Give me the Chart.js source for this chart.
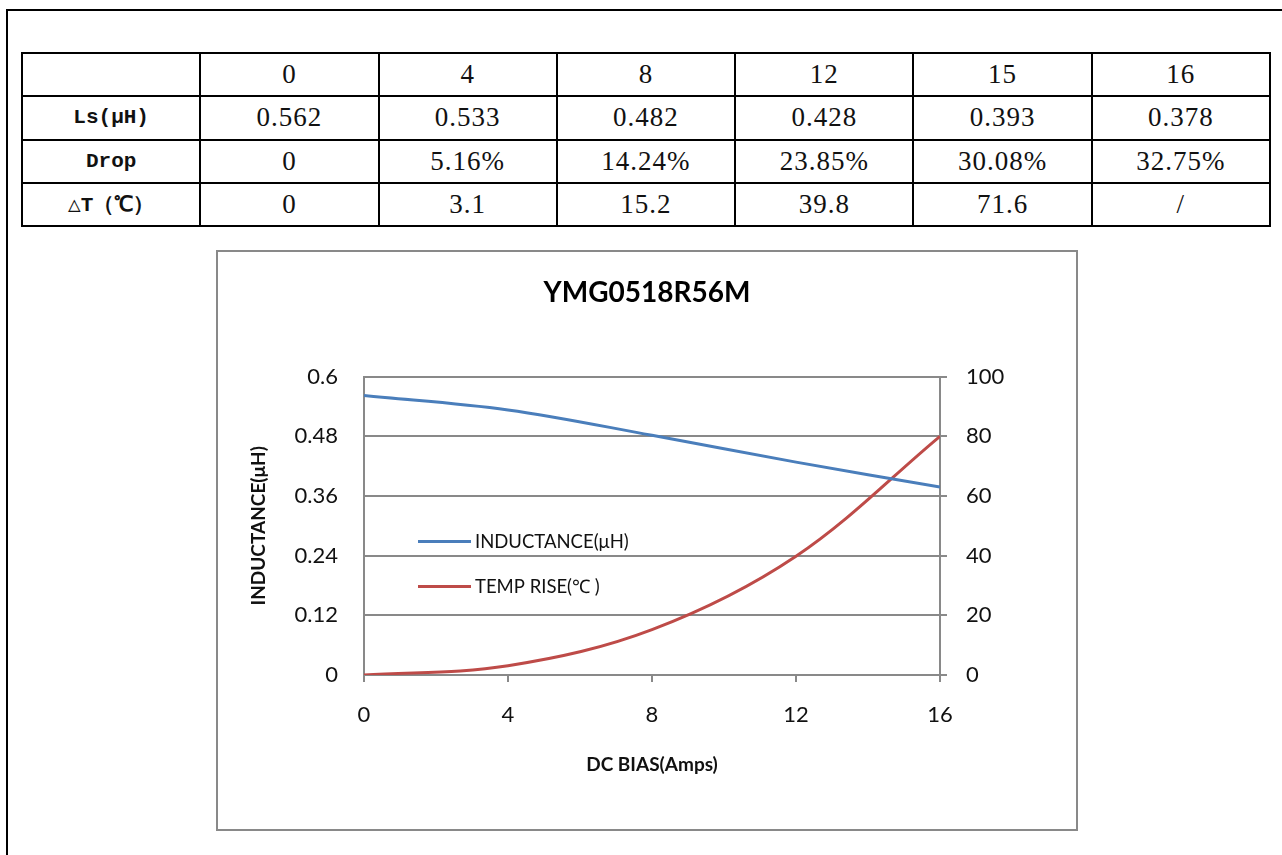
<!DOCTYPE html>
<html>
<head>
<meta charset="utf-8">
<script src="https://cdn.jsdelivr.net/npm/chart.js@4/dist/chart.umd.min.js"></script>
<style>
  html, body { margin:0; padding:0; background:#fff; }
  body { width:1282px; height:855px; position:relative; overflow:hidden; }
  #pageTop { position:absolute; left:7px; top:9px; width:1290px; height:2px; background:#000; }
  #pageLeft { position:absolute; left:6px; top:9px; width:2px; height:860px; background:#000; }
  table { position:absolute; left:21px; top:52px; width:1250px; height:175px; border-collapse:collapse; table-layout:fixed; }
  td { border:2px solid #000; text-align:center; padding:0; font-family:"Liberation Serif", serif; font-size:27px; letter-spacing:1px; color:#111; height:41px; }
  td.lab { font-family:"Liberation Mono", monospace; font-weight:bold; font-size:21px; letter-spacing:0; }
  #box { position:absolute; left:216px; top:250px; width:862px; height:581px; box-sizing:border-box; border:2px solid #898989; background:#fff; }
  #wrap { position:absolute; left:0; top:0; width:858px; height:577px; }
</style>
</head>
<body>
<div id="pageTop"></div>
<div id="pageLeft"></div>
<table id="tbl"></table>
<div id="box"><div id="wrap"><canvas id="c" width="858" height="577"></canvas></div></div>
<script>
// ---- data ----
const tableHeaders = ["0", "4", "8", "12", "15", "16"];
const lsRowLabel = "Ls(μH)";
const lsValues = ["0.562", "0.533", "0.482", "0.428", "0.393", "0.378"];
const dropRowLabel = "Drop";
const dropValues = ["0", "5.16%", "14.24%", "23.85%", "30.08%", "32.75%"];
const dtRowLabel = "△T（℃）";
const dtValues = ["0", "3.1", "15.2", "39.8", "71.6", "/"];

const chartTitle = "YMG0518R56M";
const xTitle = "DC BIAS(Amps)";
const yTitle = "INDUCTANCE(μH)";
const seriesInductanceName = "INDUCTANCE(μH)";
const seriesTempName = "TEMP RISE(℃ )";
const biasX = [0, 4, 8, 12, 16];
const inductanceY = [0.562, 0.533, 0.482, 0.428, 0.378];
const tempY = [0, 3.1, 15.2, 39.8, 80];
const xTicks = [0, 4, 8, 12, 16];
const leftTicks = [0, 0.12, 0.24, 0.36, 0.48, 0.6];
const rightTicks = [0, 20, 40, 60, 80, 100];

// ---- table ----
const tbl = document.getElementById('tbl');
function addRow(label, vals) {
  const tr = document.createElement('tr');
  const th = document.createElement('td');
  th.className = 'lab'; th.textContent = label; tr.appendChild(th);
  vals.forEach(v => { const td = document.createElement('td'); td.textContent = v; tr.appendChild(td); });
  tbl.appendChild(tr);
}
addRow("", tableHeaders);
addRow(lsRowLabel, lsValues);
addRow(dropRowLabel, dropValues);
addRow(dtRowLabel, dtValues);

// ---- chart ----
const GRID = '#898989';
const BLUE = '#4A7EBB';
const RED = '#BE4B48';

const legendInside = {
  id: 'legendInside',
  afterDatasetsDraw(chart) {
    const ctx = chart.ctx, a = chart.chartArea;
    const items = chart.data.datasets;
    ctx.save();
    items.forEach((ds, i) => {
      const y = a.top + 165 + i * 45;
      const x0 = a.left + 54;
      ctx.strokeStyle = ds.borderColor; ctx.lineWidth = 3;
      ctx.beginPath(); ctx.moveTo(x0, y); ctx.lineTo(x0 + 53, y); ctx.stroke();
      ctx.fillStyle = '#111';
      ctx.font = '18.5px Lato';
      ctx.textBaseline = 'middle'; ctx.textAlign = 'left';
      ctx.fillText(ds.label, x0 + 57, y);
    });
    ctx.restore();
  }
};

new Chart(document.getElementById('c'), {
  type: 'line',
  data: {
    datasets: [
      { label: seriesInductanceName, data: biasX.map((x, i) => ({x, y: inductanceY[i]})),
        yAxisID: 'y', borderColor: BLUE, backgroundColor: BLUE, borderWidth: 3, pointRadius: 0,
        tension: 0.35 },
      { label: seriesTempName, data: biasX.map((x, i) => ({x, y: tempY[i]})),
        yAxisID: 'y1', borderColor: RED, backgroundColor: RED, borderWidth: 3, pointRadius: 0,
        tension: 0.35 }
    ]
  },
  options: {
    responsive: false,
    animation: false,
    layout: { padding: { left: 0, right: 0, top: 0, bottom: 49 } },
    plugins: {
      legend: { display: false },
      tooltip: { enabled: false },
      title: { display: true, text: chartTitle, color: '#000',
        font: { family: 'Lato', size: 28, weight: 'bold' }, padding: { top: 24, bottom: 67 } }
    },
    scales: {
      x: {
        type: 'linear', min: 0, max: 16,
        afterBuildTicks(s) { s.ticks = xTicks.map(v => ({ value: v })); },
        afterFit(s) { s.height = 105; },
        grid: { drawOnChartArea: false, drawTicks: true, tickLength: 7, color: GRID, lineWidth: 2 },
        border: { display: true, color: GRID, width: 2 },
        ticks: { color: '#111', font: { family: 'Lato', size: 22 }, padding: 20, maxRotation: 0 },
        title: { display: true, text: xTitle, color: '#111', font: { family: 'Lato', size: 19, weight: 'bold' }, padding: { top: 4, bottom: 4 } }
      },
      y: {
        position: 'left', min: 0, max: 0.6,
        afterBuildTicks(s) { s.ticks = leftTicks.map(v => ({ value: v })); },
        afterFit(s) { s.width = 146; },
        grid: { drawOnChartArea: true, drawTicks: false, color: GRID, lineWidth: 2 },
        border: { display: true, color: GRID, width: 2 },
        ticks: { color: '#111', font: { family: 'Lato', size: 22 }, padding: 26, callback: v => String(+v.toFixed(2)) },
        title: { display: true, text: yTitle, color: '#111', font: { family: 'Lato', size: 19, weight: 'bold' }, padding: { top: 29, bottom: 0 } }
      },
      y1: {
        position: 'right', min: 0, max: 100,
        afterBuildTicks(s) { s.ticks = rightTicks.map(v => ({ value: v })); },
        afterFit(s) { s.width = 136; },
        grid: { drawOnChartArea: false, drawTicks: true, tickLength: 7, color: GRID, lineWidth: 2 },
        border: { display: true, color: GRID, width: 2 },
        ticks: { color: '#111', font: { family: 'Lato', size: 22 }, padding: 19 }
      }
    }
  },
  plugins: [legendInside]
});
</script>
</body>
</html>
